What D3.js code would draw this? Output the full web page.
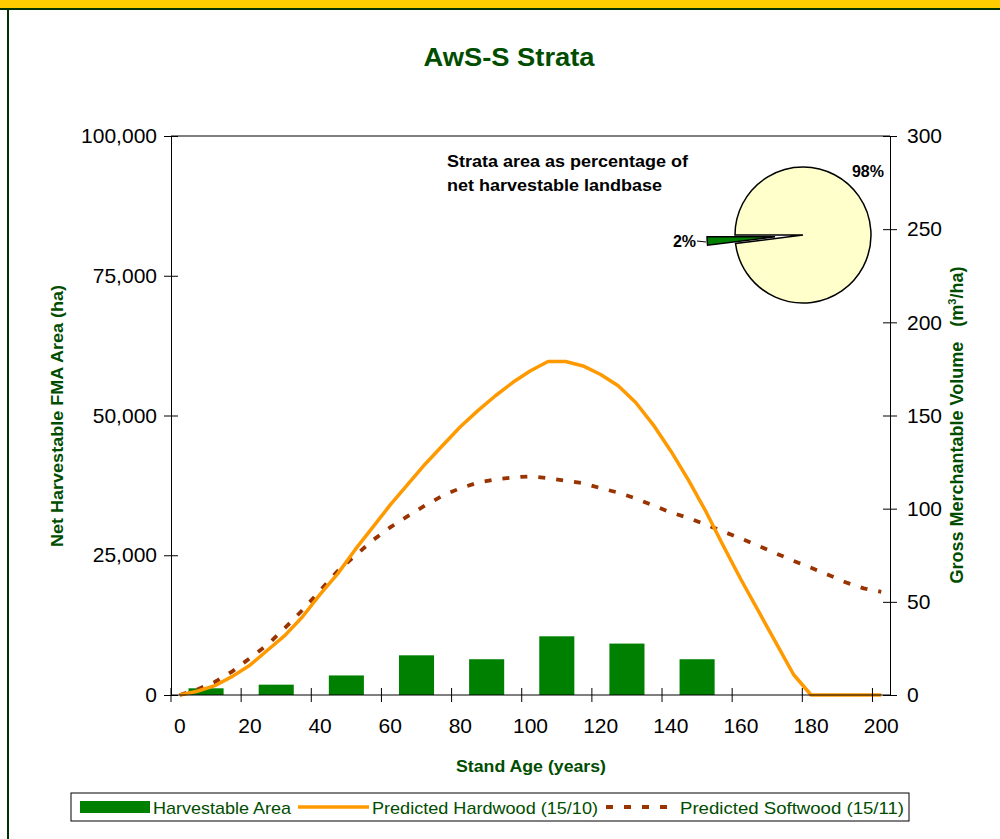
<!DOCTYPE html>
<html>
<head>
<meta charset="utf-8">
<script src="https://cdn.jsdelivr.net/npm/d3@7"></script>
<style>
  body { margin: 0; background: #fff; }
  svg { display: block; font-family: "Liberation Sans", Arial, sans-serif; }
</style>
</head>
<body>
<svg id="chart" width="1000" height="839"></svg>
<script>
// stand age categories (5-year steps)
var ages = [0, 5, 10, 15, 20, 25, 30, 35, 40, 45, 50, 55, 60, 65, 70, 75, 80, 85, 90, 95, 100,
    105, 110, 115, 120, 125, 130, 135, 140, 145, 150, 155, 160, 165, 170, 175, 180, 185, 190, 195, 200];
var ageLabels = [0, 20, 40, 60, 80, 100, 120, 140, 160, 180, 200];

// predicted volumes, m3/ha
var hardwood = [0, 2, 5, 10, 16, 24, 32, 42, 54, 65, 78, 90, 102, 113, 124, 134, 144, 152.6, 160.6, 167.8, 174,
    179, 179, 176.6, 172, 166, 157, 145, 131, 115.5, 98.5, 80, 62, 45, 28, 11, 0, 0, 0, 0, 0];
var softwood = [0, 3, 7, 12.7, 19.8, 27, 36, 45.6, 56, 66.5, 74.7, 83, 90, 96, 101.8, 107, 111, 114, 115.7, 116.8, 117.3,
    116.4, 115, 113.7, 111, 108.6, 105.5, 101.7, 98, 95, 91.4, 87.7, 84, 80, 76, 72, 68.3, 64.4, 60.4, 57.2, 55.4];

// harvestable area by age class (ha)
var barAges = [10, 30, 50, 70, 90, 110, 130, 150];
var barArea = [1200, 1850, 3500, 7100, 6400, 10500, 9200, 6400];

var areaTicks = [0, 25000, 50000, 75000, 100000];
var volTicks = [0, 50, 100, 150, 200, 250, 300];

// pie: strata share of net harvestable landbase
var pieLabels = ["98%", "2%"];
var pieValues = [98, 2];

var svg = d3.select("#chart");
var W = 1000, H = 839;
var plotL = 171, plotR = 890, plotT = 136, plotB = 695;
var green = "#004d00";

// frame
svg.append("rect").attr("x", 0).attr("y", 0).attr("width", W).attr("height", 8).attr("fill", "#ffcc00");
svg.append("line").attr("x1", 0).attr("x2", W).attr("y1", 9).attr("y2", 9).attr("stroke", "#003300").attr("stroke-width", 2);
svg.append("line").attr("x1", 8).attr("x2", 8).attr("y1", 9).attr("y2", H).attr("stroke", "#003300").attr("stroke-width", 2);

var x = d3.scaleBand().domain(ages).range([plotL, plotR]).padding(0);
var cx = function (a) { return x(a) + x.bandwidth() / 2; };
var yA = d3.scaleLinear().domain([0, 100000]).range([plotB, plotT]);
var yV = d3.scaleLinear().domain([0, 300]).range([plotB, plotT]);

// title
svg.append("text").attr("x", 509).attr("y", 66).attr("text-anchor", "middle")
    .attr("font-size", 26).attr("font-weight", "bold").attr("fill", green)
    .attr("textLength", 171).attr("lengthAdjust", "spacingAndGlyphs").text("AwS-S Strata");

// plot border top
svg.append("line").attr("x1", plotL).attr("x2", plotR).attr("y1", plotT).attr("y2", plotT).attr("stroke", "#000");

// bars
svg.append("g").selectAll("rect").data(barAges).join("rect")
    .attr("x", function (a) { return x(a - 5); })
    .attr("width", x.bandwidth() * 2)
    .attr("y", function (a, i) { return yA(barArea[i]); })
    .attr("height", function (a, i) { return plotB - yA(barArea[i]); })
    .attr("fill", "#008000");

// lines
var line = function (vals) {
    return d3.line().x(function (d, i) { return cx(ages[i]); }).y(function (d) { return yV(d); })(vals);
};
svg.append("path").attr("d", line(softwood)).attr("fill", "none").attr("stroke", "#993300")
    .attr("stroke-width", 3.8).attr("stroke-dasharray", "7,11");
svg.append("path").attr("d", line(hardwood)).attr("fill", "none").attr("stroke", "#ff9900")
    .attr("stroke-width", 3.5).attr("stroke-linejoin", "round");

// left axis
var gl = svg.append("g").attr("transform", "translate(" + plotL + ",0)")
    .call(d3.axisLeft(yA).tickValues(areaTicks).tickFormat(d3.format(",")).tickSize(7).tickPadding(7));
gl.selectAll(".tick line").attr("x2", -7).attr("x1", 7);
// right axis
var gr = svg.append("g").attr("transform", "translate(" + plotR + ",0)")
    .call(d3.axisRight(yV).tickValues(volTicks).tickSize(7).tickPadding(10));
gr.selectAll(".tick line").attr("x1", -7).attr("x2", 7);
// bottom axis: labels at category centres, ticks at category boundaries
var gb = svg.append("g").attr("transform", "translate(0," + plotB + ")")
    .call(d3.axisBottom(x).tickValues(ageLabels).tickSize(0).tickPadding(23));
gb.selectAll(".tick").append("line")
    .attr("x1", -x.bandwidth() / 2).attr("x2", -x.bandwidth() / 2)
    .attr("y1", -7).attr("y2", 7).attr("stroke", "#000");
[gl, gr, gb].forEach(function (g) {
    g.select(".domain").attr("stroke", "#000");
    g.selectAll(".tick text").attr("font-size", 21).attr("fill", "#000")
        .attr("font-family", "'Liberation Sans', Arial, sans-serif");
});
gb.select(".domain").attr("d", "M" + plotL + ",0H" + plotR);

// axis titles
svg.append("text").attr("transform", "translate(63,416) rotate(-90)").attr("text-anchor", "middle")
    .attr("font-size", 17).attr("font-weight", "bold").attr("fill", green)
    .attr("textLength", 262).attr("lengthAdjust", "spacingAndGlyphs").text("Net Harvestable FMA Area (ha)");
var rt = svg.append("text").attr("transform", "translate(963,425) rotate(-90)").attr("text-anchor", "middle")
    .attr("font-size", 18).attr("font-weight", "bold").attr("fill", green);
rt.append("tspan").text("Gross Merchantable Volume\u00a0\u00a0\u00a0(m");
rt.append("tspan").attr("font-size", 11).attr("dy", -7).text("3");
rt.append("tspan").attr("dy", 7).text("/ha)");
svg.append("text").attr("x", 531).attr("y", 772).attr("text-anchor", "middle")
    .attr("font-size", 17).attr("font-weight", "bold").attr("fill", green)
    .attr("textLength", 150).attr("lengthAdjust", "spacingAndGlyphs").text("Stand Age (years)");

// pie inset
svg.append("text").attr("x", 447).attr("y", 167).attr("font-size", 16).attr("font-weight", "bold")
    .attr("fill", "#000").attr("textLength", 241).attr("lengthAdjust", "spacingAndGlyphs")
    .text("Strata area as percentage of");
svg.append("text").attr("x", 447).attr("y", 191).attr("font-size", 16).attr("font-weight", "bold")
    .attr("fill", "#000").attr("textLength", 215).attr("lengthAdjust", "spacingAndGlyphs")
    .text("net harvestable landbase");

var pcx = 803, pcy = 235, pr = 68;
var arcs = d3.pie().sort(null).startAngle(1.5 * Math.PI).endAngle(3.5 * Math.PI)(pieValues);
var arc = d3.arc().innerRadius(0).outerRadius(pr);
var pieColors = ["#ffffcc", "#008000"];
var explode = [0, 28];
svg.append("g").attr("transform", "translate(" + pcx + "," + pcy + ")")
    .selectAll("path").data(arcs).join("path")
    .attr("transform", function (d, i) {
        var m = (d.startAngle + d.endAngle) / 2;
        return "translate(" + (Math.sin(m) * explode[i]) + "," + (-Math.cos(m) * explode[i]) + ")";
    })
    .attr("d", arc).attr("fill", function (d, i) { return pieColors[i]; })
    .attr("stroke", "#000").attr("stroke-width", 1.5);
svg.append("text").attr("x", 884).attr("y", 177).attr("text-anchor", "end").attr("font-size", 16)
    .attr("font-weight", "bold").text(pieLabels[0]);
svg.append("text").attr("x", 696).attr("y", 247).attr("text-anchor", "end").attr("font-size", 16)
    .attr("font-weight", "bold").text(pieLabels[1]);
svg.append("line").attr("x1", 697).attr("x2", 706).attr("y1", 241).attr("y2", 242).attr("stroke", "#000");

// legend
var lg = svg.append("g");
lg.append("rect").attr("x", 71).attr("y", 793).attr("width", 838).attr("height", 28)
    .attr("fill", "#fff").attr("stroke", "#000");
lg.append("rect").attr("x", 80).attr("y", 801).attr("width", 70).attr("height", 12).attr("fill", "#008000");
lg.append("line").attr("x1", 298).attr("x2", 369).attr("y1", 807).attr("y2", 807)
    .attr("stroke", "#ff9900").attr("stroke-width", 3.5);
lg.append("line").attr("x1", 606).attr("x2", 678).attr("y1", 807).attr("y2", 807)
    .attr("stroke", "#993300").attr("stroke-width", 3.8).attr("stroke-dasharray", "7,11");
[["Harvestable Area", 153, 138], ["Predicted Hardwood (15/10)", 372, 226], ["Predicted Softwood (15/11)", 680, 224]].forEach(function (t) {
    lg.append("text").attr("x", t[1]).attr("y", 814).attr("font-size", 17).attr("fill", green)
        .attr("textLength", t[2]).attr("lengthAdjust", "spacingAndGlyphs").text(t[0]);
});
</script>
</body>
</html>
